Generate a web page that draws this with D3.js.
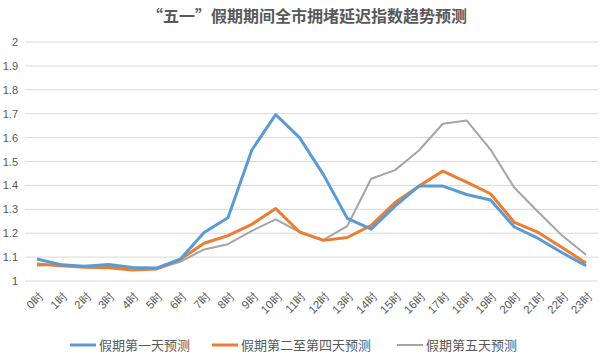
<!DOCTYPE html>
<html><head><meta charset="utf-8">
<script src="https://cdn.jsdelivr.net/npm/d3@7"></script>
<style>body{margin:0;background:#fff;}svg{display:block;font-family:"Noto Sans CJK SC","Microsoft YaHei",sans-serif;}</style>
</head><body>
<script>
const title = "“五一”假期期间全市拥堵延迟指数趋势预测";
const hours = ["0时","1时","2时","3时","4时","5时","6时","7时","8时","9时","10时","11时","12时","13时","14时","15时","16时","17时","18时","19时","20时","21时","22时","23时"];
const seriesNames = ["假期第一天预测","假期第二至第四天预测","假期第五天预测"];
const day1 = [1.092,1.068,1.062,1.069,1.057,1.054,1.091,1.203,1.265,1.548,1.696,1.600,1.445,1.262,1.217,1.313,1.397,1.397,1.362,1.339,1.226,1.178,1.118,1.064];
const day2to4 = [1.071,1.064,1.058,1.055,1.046,1.050,1.090,1.158,1.190,1.237,1.303,1.205,1.170,1.182,1.233,1.328,1.397,1.460,1.414,1.365,1.245,1.203,1.140,1.075];
const day5 = [1.064,1.070,1.060,1.060,1.055,1.050,1.080,1.132,1.154,1.210,1.258,1.205,1.172,1.230,1.428,1.464,1.546,1.658,1.672,1.550,1.390,1.289,1.190,1.110];
const yTicks = [1,1.1,1.2,1.3,1.4,1.5,1.6,1.7,1.8,1.9,2];
const colors = ["#5B9BD5","#ED7D31","#A5A5A5"];
const widths = [3,3,2];

const W=615,H=362;
const svg=d3.select("body").append("svg").attr("width",W).attr("height",H);
const x=d3.scalePoint().domain(hours).range([37,586]);
const y=d3.scaleLinear().domain([1,2]).range([281,42]);

svg.append("text").attr("x",307).attr("y",22).attr("text-anchor","middle")
  .attr("font-size",16).attr("font-weight","bold").attr("fill","#595959").text(title);

// grid
svg.append("g").selectAll("line").data(yTicks).join("line")
  .attr("x1",25).attr("x2",598).attr("y1",d=>y(d)).attr("y2",d=>y(d))
  .attr("stroke","#D9D9D9").attr("stroke-width",1);

const yAxis=d3.axisLeft(y).tickValues(yTicks).tickSize(0).tickPadding(0).tickFormat(d=>d3.format("")(+d.toFixed(1)));
const gy=svg.append("g").attr("transform","translate(18,0)").call(yAxis);
gy.select(".domain").remove();
gy.selectAll("text").attr("font-size",11).attr("fill","#595959");

const xAxis=d3.axisBottom(x).tickSize(0).tickPadding(0);
const gx=svg.append("g").attr("transform","translate(0,290)").call(xAxis);
gx.select(".domain").remove();
gx.selectAll("text").attr("font-size",11.5).attr("fill","#595959")
  .attr("text-anchor","end").attr("dy","0.35em")
  .attr("transform","translate(4,4) rotate(-45)");

const data=[day1,day2to4,day5];
const line=d3.line().x((d,i)=>x(hours[i])).y(d=>y(d));
[2,1,0].forEach(k=>{
  svg.append("path").datum(data[k]).attr("d",line).attr("fill","none")
    .attr("stroke",colors[k]).attr("stroke-width",widths[k]).attr("stroke-linejoin","round");
});

// legend
const leg=[{x:70,tx:99},{x:212,tx:241},{x:397,tx:426}];
seriesNames.forEach((n,i)=>{
  svg.append("line").attr("x1",leg[i].x).attr("x2",leg[i].x+26).attr("y1",345).attr("y2",345)
    .attr("stroke",colors[i]).attr("stroke-width",widths[i]);
  svg.append("text").attr("x",leg[i].tx).attr("y",349.5).attr("font-size",13)
    .attr("fill","#595959").text(n);
});
</script>
</body></html>
